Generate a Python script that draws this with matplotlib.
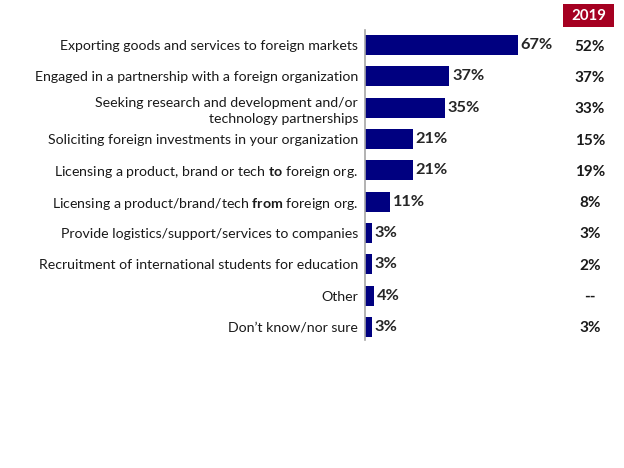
import matplotlib
matplotlib.use("Agg")
import matplotlib.pyplot as plt
from matplotlib.patches import Rectangle
import matplotlib.transforms as mtransforms

plt.rcParams['font.family'] = ['Lato', 'DejaVu Sans']
plt.rcParams['mathtext.fontset'] = 'custom'
plt.rcParams['mathtext.rm'] = 'Lato'
plt.rcParams['mathtext.bf'] = 'Lato:bold'

categories = [
    "Exporting goods and services to foreign markets",
    "Engaged in a partnership with a foreign organization",
    "Seeking research and development and/or\ntechnology partnerships",
    "Soliciting foreign investments in your organization",
    r"Licensing a product, brand or tech $\mathbf{to}$ foreign org.",
    r"Licensing a product/brand/tech $\mathbf{from}$ foreign org.",
    "Provide logistics/support/services to companies",
    "Recruitment of international students for education",
    "Other",
    "Don\u2019t know/nor sure",
]
values_2021 = [67, 37, 35, 21, 21, 11, 3, 3, 4, 3]
labels_2019 = ["52%", "37%", "33%", "15%", "19%", "8%", "3%", "2%", "--", "3%"]

W, H = 624, 468
fig = plt.figure(figsize=(W / 100, H / 100), dpi=100)

ax_left, ax_right = 365, 565
ax_top, ax_bot = 30, 340
ax = fig.add_axes([ax_left / W, 1 - ax_bot / H, (ax_right - ax_left) / W, (ax_bot - ax_top) / H])

y = list(range(len(categories)))
ax.barh(y, values_2021, height=0.64, color="#000080")
ax.set_xlim(0, (ax_right - ax_left) / 2.28)
ax.set_ylim(9.42, -0.48)
ax.set_yticks(y)
ax.set_yticklabels(categories, fontsize=10.2, color="#1a1a1a", linespacing=1.4)
ax.tick_params(axis='y', length=0, pad=5)
ax.set_xticks([])
for s in ['top', 'right', 'bottom']:
    ax.spines[s].set_visible(False)
ax.spines['left'].set_color('#a6a6a6')
ax.spines['left'].set_linewidth(1.2)

for yi, v in zip(y, values_2021):
    ax.text(v + 1.2, yi, f"{v}%", va='center', ha='left', fontsize=11.8,
            fontweight='bold', color='#262626')

trans = mtransforms.blended_transform_factory(fig.transFigure, ax.transData)
for yi, lab in zip(y, labels_2019):
    ax.text(590 / W, yi + 0.05, lab, transform=trans, va='center', ha='center',
            fontsize=11, fontweight='bold', color='#1a1a1a')

fig.patches.append(Rectangle((563 / W, 1 - 27 / H), 51 / W, 23 / H,
                             transform=fig.transFigure, facecolor='#A50021',
                             edgecolor='none'))
fig.text(588.5 / W, 1 - 15.5 / H, "2019", ha='center', va='center', fontsize=10.8,
         fontweight='bold', color='white')

fig.savefig("out.png", dpi=100)
